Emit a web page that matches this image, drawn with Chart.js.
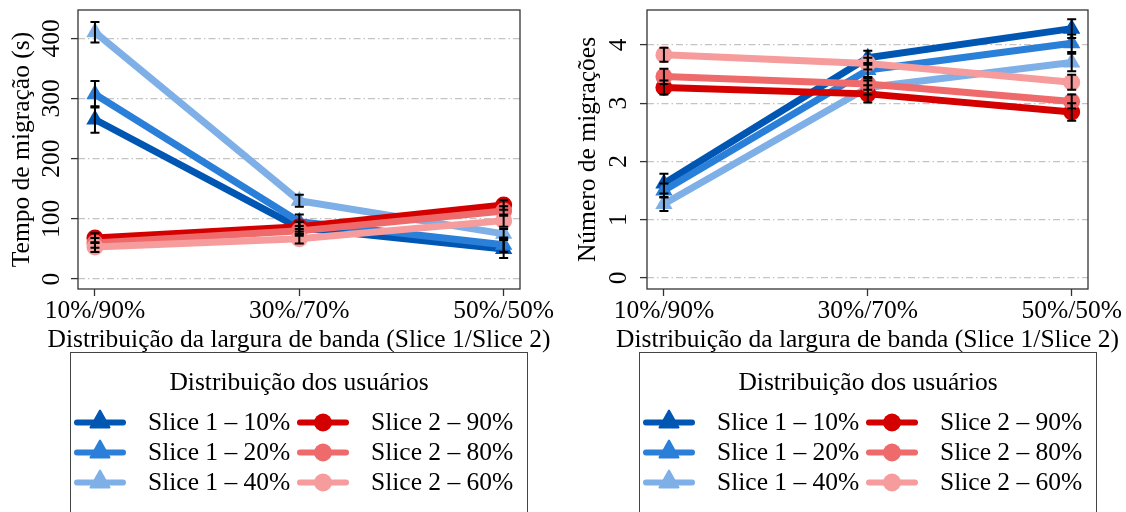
<!DOCTYPE html>
<html>
<head>
<meta charset="utf-8">
<script src="https://cdn.jsdelivr.net/npm/chart.js@4.4.1/dist/chart.umd.min.js"></script>
<style>
  html, body { margin:0; padding:0; background:#fff; }
  body { width:1126px; height:512px; overflow:hidden; position:relative; font-family:'Liberation Serif','Times New Roman',serif; }
  .cv { position:absolute; top:0; }
  .legend { position:absolute; top:352px; width:458px; height:200px; border:1px solid #444; box-sizing:border-box; }
  .legend .ttl { position:absolute; left:0; right:0; top:14px; text-align:center; font-size:25.5px; line-height:30px; color:#000; white-space:nowrap; }
  .legend .lbl { position:absolute; font-size:25.5px; line-height:30px; color:#000; white-space:nowrap; }
  .legend svg { position:absolute; }
</style>
</head>
<body>
<canvas id="c1" class="cv" width="563" height="360" style="left:0px"></canvas>
<canvas id="c2" class="cv" width="563" height="360" style="left:563px"></canvas>
<div id="lg1" class="legend" style="left:70px"></div>
<div id="lg2" class="legend" style="left:639px"></div>
<script>
// ---------- data ----------
const xLabels = ['10%/90%', '30%/70%', '50%/50%'];
const seriesNames = ['Slice 1 – 10%', 'Slice 1 – 20%', 'Slice 1 – 40%', 'Slice 2 – 90%', 'Slice 2 – 80%', 'Slice 2 – 60%'];
const legendTitle = 'Distribuição dos usuários';
const xTitle = 'Distribuição da largura de banda (Slice 1/Slice 2)';

// Tempo de migração (s)
const tempoS1_10 = [265, 85, 50];
const tempoS1_20 = [307, 95, 57];
const tempoS1_40 = [410, 130, 75];
const tempoS2_90 = [68, 87, 123];
const tempoS2_80 = [60, 80, 113];
const tempoS2_60 = [53, 67, 97];
const tempoErrS1_10 = [22, 10, 15];
const tempoErrS1_20 = [22, 12, 12];
const tempoErrS1_40 = [17, 10, 8];
const tempoErrS2_90 = [8, 8, 8];
const tempoErrS2_80 = [8, 8, 8];
const tempoErrS2_60 = [8, 8, 10];
const tempoTicks = [0, 100, 200, 300, 400];

// Número de migrações
const migrS1_10 = [1.62, 3.78, 4.28];
const migrS1_20 = [1.50, 3.57, 4.03];
const migrS1_40 = [1.27, 3.27, 3.70];
const migrS2_90 = [3.27, 3.16, 2.85];
const migrS2_80 = [3.46, 3.33, 3.03];
const migrS2_60 = [3.83, 3.68, 3.36];
const migrErrS1_10 = [0.17, 0.12, 0.16];
const migrErrS1_20 = [0.12, 0.12, 0.15];
const migrErrS1_40 = [0.12, 0.12, 0.15];
const migrErrS2_90 = [0.12, 0.15, 0.15];
const migrErrS2_80 = [0.13, 0.10, 0.12];
const migrErrS2_60 = [0.12, 0.10, 0.13];
const migrTicks = [0, 1, 2, 3, 4];

// ---------- styles ----------
const seriesColors = ['#0056b3', '#2a7fd8', '#7eb0e7', '#d40000', '#ef6b6b', '#f69c9c'];
const seriesMarkers = ['triangle', 'triangle', 'triangle', 'circle', 'circle', 'circle'];
const FONT_FAMILY = "'Liberation Serif','Times New Roman',serif";
const FONT = { family: FONT_FAMILY, size: 25.5 };

const framePlugin = {
  id: 'frame',
  beforeDatasetsDraw(chart) {
    const a = chart.chartArea, ctx = chart.ctx;
    ctx.save();
    ctx.strokeStyle = '#333';
    ctx.lineWidth = 1.3;
    ctx.strokeRect(a.left, a.top, a.right - a.left, a.bottom - a.top);
    ctx.restore();
  }
};

// x-axis title, centred under the plot area (wider than the plot, so not clipped)
const xTitlePlugin = {
  id: 'xtitle',
  afterDraw(chart) {
    const a = chart.chartArea, ctx = chart.ctx;
    ctx.save();
    ctx.fillStyle = '#000';
    ctx.font = '25.5px ' + FONT_FAMILY;
    ctx.textAlign = 'center';
    ctx.textBaseline = 'middle';
    ctx.fillText(xTitle, (a.left + a.right) / 2, 340);
    ctx.restore();
  }
};

const errorBarPlugin = {
  id: 'errbars',
  afterDatasetsDraw(chart) {
    const ctx = chart.ctx, ys = chart.scales.y;
    ctx.save();
    ctx.strokeStyle = '#000';
    ctx.lineWidth = 2;
    chart.data.datasets.forEach((ds, i) => {
      const meta = chart.getDatasetMeta(i);
      meta.data.forEach((pt, j) => {
        const v = ds.data[j].y, e = ds.errors[j];
        const y1 = ys.getPixelForValue(v - e), y2 = ys.getPixelForValue(v + e);
        const x = pt.x;
        ctx.beginPath();
        ctx.moveTo(x, y1); ctx.lineTo(x, y2);
        ctx.moveTo(x - 4.5, y1); ctx.lineTo(x + 4.5, y1);
        ctx.moveTo(x - 4.5, y2); ctx.lineTo(x + 4.5, y2);
        ctx.stroke();
      });
    });
    ctx.restore();
  }
};

function makeChart(id, series, errs, yMin, yMax, yTicks, yTitle, axisW, tickPad, titlePad, rightPad) {
  const datasets = series.map((vals, i) => ({
    label: seriesNames[i],
    data: vals.map((v, j) => ({ x: j, y: v })),
    errors: errs[i],
    borderColor: seriesColors[i],
    backgroundColor: seriesColors[i],
    pointBackgroundColor: seriesColors[i],
    pointBorderWidth: 0,
    pointStyle: seriesMarkers[i],
    pointRadius: seriesMarkers[i] === 'triangle' ? 10 : 8.5,
    borderWidth: 7,
    borderCapStyle: 'round',
    borderJoinStyle: 'round',
    tension: 0,
    clip: false,
    order: 6 - i
  }));
  return new Chart(document.getElementById(id), {
    type: 'line',
    data: { datasets },
    plugins: [framePlugin, errorBarPlugin, xTitlePlugin],
    options: {
      responsive: false,
      animation: false,
      devicePixelRatio: 1,
      layout: { padding: { top: 9, right: rightPad, left: 0, bottom: 0 } },
      plugins: { legend: { display: false }, tooltip: { enabled: false } },
      scales: {
        x: {
          type: 'linear',
          min: -0.083, max: 2.08,
          afterBuildTicks: s => { s.ticks = xLabels.map((_, i) => ({ value: i })); },
          ticks: { callback: v => xLabels[v], font: FONT, color: '#000', padding: 0, maxRotation: 0, autoSkip: false },
          grid: { drawOnChartArea: false, drawTicks: true, tickLength: 7, tickColor: '#333', tickWidth: 1.3 },
          border: { display: false },
          title: { display: false },
          afterFit: s => { s.height = 71; s.paddingLeft = 0; s.paddingRight = 0; }
        },
        y: {
          type: 'linear',
          min: yMin, max: yMax,
          afterBuildTicks: s => { s.ticks = yTicks.map(v => ({ value: v })); },
          ticks: { font: FONT, color: '#000', minRotation: 90, maxRotation: 90, crossAlign: 'center', padding: tickPad },
          grid: { color: '#c4c4c4', lineWidth: 1.2, tickColor: '#333', tickLength: 7, tickWidth: 1.3, tickBorderDash: [] },
          border: { display: false, dash: [7, 3, 1.5, 3] },
          title: { display: true, text: yTitle, font: FONT, color: '#000', padding: { top: titlePad, bottom: 0 } },
          afterFit: s => { s.width = axisW; s.paddingTop = 0; s.paddingBottom = 0; }
        }
      }
    }
  });
}

makeChart('c1',
  [tempoS1_10, tempoS1_20, tempoS1_40, tempoS2_90, tempoS2_80, tempoS2_60],
  [tempoErrS1_10, tempoErrS1_20, tempoErrS1_40, tempoErrS2_90, tempoErrS2_80, tempoErrS2_60],
  -16.6, 447, tempoTicks, 'Tempo de migração (s)', 78, 0, 6.7, 43);

makeChart('c2',
  [migrS1_10, migrS1_20, migrS1_40, migrS2_90, migrS2_80, migrS2_60],
  [migrErrS1_10, migrErrS1_20, migrErrS1_40, migrErrS2_90, migrErrS2_80, migrErrS2_60],
  -0.19, 4.6, migrTicks, 'Número de migrações', 84, 14.6, 9.7, 38);

// ---------- legend (HTML) ----------
function buildLegend(id) {
  const el = document.getElementById(id);
  const t = document.createElement('div');
  t.className = 'ttl';
  t.textContent = legendTitle;
  el.appendChild(t);
  const NS = 'http://www.w3.org/2000/svg';
  seriesNames.forEach((name, i) => {
    const col = i < 3 ? 0 : 1;
    const row = i % 3;
    const top = 54 + row * 30;
    const lx = col === 0 ? 5 : 228;
    const svg = document.createElementNS(NS, 'svg');
    svg.setAttribute('width', '56'); svg.setAttribute('height', '30');
    svg.style.left = (lx - 4) + 'px'; svg.style.top = top + 'px';
    const ln = document.createElementNS(NS, 'line');
    ln.setAttribute('x1', '5'); ln.setAttribute('x2', '51');
    ln.setAttribute('y1', '15.5'); ln.setAttribute('y2', '15.5');
    ln.setAttribute('stroke', seriesColors[i]); ln.setAttribute('stroke-width', '6');
    ln.setAttribute('stroke-linecap', 'round');
    svg.appendChild(ln);
    if (seriesMarkers[i] === 'triangle') {
      const p = document.createElementNS(NS, 'polygon');
      p.setAttribute('points', '28,3.5 37.5,20.5 18.5,20.5');
      p.setAttribute('fill', seriesColors[i]);
      p.setAttribute('stroke', seriesColors[i]); p.setAttribute('stroke-width', '2'); p.setAttribute('stroke-linejoin', 'round');
      svg.appendChild(p);
    } else {
      const c = document.createElementNS(NS, 'circle');
      c.setAttribute('cx', '28'); c.setAttribute('cy', '15.5'); c.setAttribute('r', '9');
      c.setAttribute('fill', seriesColors[i]);
      svg.appendChild(c);
    }
    el.appendChild(svg);
    const lb = document.createElement('div');
    lb.className = 'lbl';
    lb.textContent = name;
    lb.style.left = (col === 0 ? 77 : 300) + 'px';
    lb.style.top = top + 'px';
    el.appendChild(lb);
  });
}
buildLegend('lg1');
buildLegend('lg2');
</script>
</body>
</html>
